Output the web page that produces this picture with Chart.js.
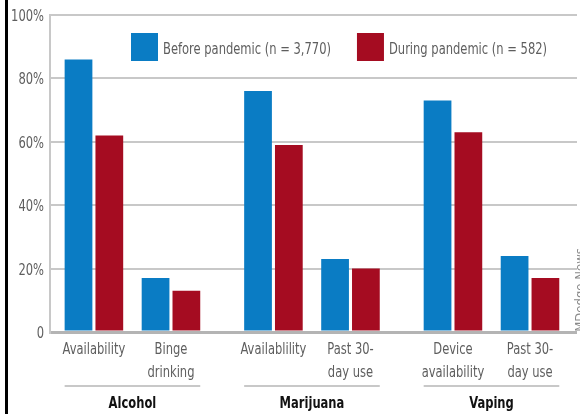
<!DOCTYPE html>
<html>
<head>
<meta charset="utf-8">
<script src="https://cdn.jsdelivr.net/npm/chart.js@4/dist/chart.umd.min.js"></script>
<style>
  html, body { margin: 0; padding: 0; background: #fff; }
  #wrap { position: relative; width: 580px; height: 414px; }
  #wrap::before { content: ''; position: absolute; left: 5px; top: 0; bottom: 0; width: 3px; background: #000; z-index: 2; }
</style>
</head>
<body>
<div id="wrap"><canvas id="chart" width="580" height="414"></canvas></div>
<script>
const categories = [['Availability'], ['Binge', 'drinking'], ['Availablility'], ['Past 30-', 'day use'], ['Device', 'availability'], ['Past 30-', 'day use']];
const groupNames = ['Alcohol', 'Marijuana', 'Vaping'];
const groupOfCategory = [0, 0, 1, 1, 2, 2];
const beforeValues = [86, 17, 76, 23, 73, 24];
const duringValues = [62, 13, 59, 20, 63, 17];
const seriesNames = ['Before pandemic (n = 3,770)', 'During pandemic (n = 582)'];
const yTicks = [0, 20, 40, 60, 80, 100];

const FONT = "'Liberation Sans Narrow', 'DejaVu Sans Condensed', sans-serif";
const SX = 0.8; // squeeze text sideways, the original face is narrower
const blue = '#0a7cc4';
const red = '#a50c21';
const gridColor = '#c8c8c8';
const textColor = '#5e5e5e';

// extra space between the groups, in category units
const GROUP_GAP = 0.33;
const xPos = categories.map((c, i) => i + GROUP_GAP * groupOfCategory[i]);

function text(ctx, str, x, y, align, font, color, sx = SX) {
    ctx.save();
    ctx.translate(x, y);
    ctx.scale(sx, 1);
    ctx.font = font;
    ctx.fillStyle = color;
    ctx.textAlign = align;
    ctx.textBaseline = 'alphabetic';
    ctx.fillText(str, 0, 0);
    ctx.restore();
}

const extras = {
    id: 'extras',
    afterDraw(chart) {
        const ctx = chart.ctx;
        const yScale = chart.scales.y;
        const before = chart.getDatasetMeta(0).data;
        const during = chart.getDatasetMeta(1).data;

        // y tick labels
        yTicks.forEach(v => {
            text(ctx, v === 0 ? '0' : `${v}%`, 44, yScale.getPixelForValue(v) + 6, 'right', `16px ${FONT}`, textColor);
        });

        // category labels
        categories.forEach((lines, i) => {
            const cx = (before[i].x - before[i].width / 2 + during[i].x + during[i].width / 2) / 2;
            lines.forEach((line, k) => {
                text(ctx, line, cx, 354 + k * 23, 'center', `16px ${FONT}`, textColor);
            });
        });

        // group labels with rule above
        groupNames.forEach((name, g) => {
            const idx = groupOfCategory.map((v, i) => v === g ? i : -1).filter(i => i >= 0);
            const left = Math.min(...idx.map(i => before[i].x - before[i].width / 2));
            const right = Math.max(...idx.map(i => during[i].x + during[i].width / 2));
            ctx.save();
            ctx.strokeStyle = gridColor;
            ctx.lineWidth = 2;
            ctx.beginPath();
            ctx.moveTo(left, 386);
            ctx.lineTo(right, 386);
            ctx.stroke();
            ctx.restore();
            text(ctx, name, (left + right) / 2, 408, 'center', `bold 16px ${FONT}`, '#111');
        });

        // legend inside the plot
        ctx.save();
        ctx.font = `16px ${FONT}`;
        let x = 131;
        chart.data.datasets.forEach(ds => {
            ctx.fillStyle = ds.backgroundColor;
            ctx.fillRect(x, 33, 27, 28);
            text(ctx, ds.label, x + 32, 54, 'left', `16px ${FONT}`, textColor);
            x += 32 + ctx.measureText(ds.label).width * SX + 26;
        });
        ctx.restore();

        // source watermark
        ctx.save();
        ctx.translate(581, 290);
        ctx.rotate(-Math.PI / 2);
        ctx.font = `13px ${FONT}`;
        ctx.fillStyle = '#8a8a8a';
        ctx.textAlign = 'center';
        ctx.textBaseline = 'middle';
        ctx.fillText('MDedge News', 0, 0);
        ctx.restore();
    },
};

new Chart(document.getElementById('chart'), {
    type: 'bar',
    data: {
        datasets: [
            { label: seriesNames[0], data: beforeValues.map((v, i) => ({ x: xPos[i], y: v })), backgroundColor: blue },
            { label: seriesNames[1], data: duringValues.map((v, i) => ({ x: xPos[i], y: v })), backgroundColor: red },
        ],
    },
    options: {
        responsive: false,
        animation: false,
        categoryPercentage: 0.8,
        barPercentage: 0.9,
        layout: { padding: { top: 15, right: 3, left: 0, bottom: 0 } },
        plugins: { legend: { display: false }, tooltip: { enabled: false } },
        scales: {
            x: {
                type: 'linear',
                offset: false,
                min: -0.57,
                max: 6.27,
                grid: { display: false, drawTicks: false },
                border: { display: false },
                afterBuildTicks: scale => { scale.ticks = xPos.map(v => ({ value: v })); },
                afterFit: scale => { scale.height = 82; },
                ticks: { display: false },
            },
            y: {
                min: 0,
                max: 100,
                afterBuildTicks: scale => { scale.ticks = yTicks.map(v => ({ value: v })); },
                afterFit: scale => { scale.width = 50; },
                grid: {
                    color: ctx => ctx.tick && ctx.tick.value === 0 ? '#b4b4b4' : gridColor,
                    lineWidth: ctx => ctx.tick && ctx.tick.value === 0 ? 3 : 2,
                    drawTicks: false,
                },
                border: { color: gridColor, width: 2 },
                ticks: { display: false },
            },
        },
    },
    plugins: [extras],
});
</script>
</body>
</html>
